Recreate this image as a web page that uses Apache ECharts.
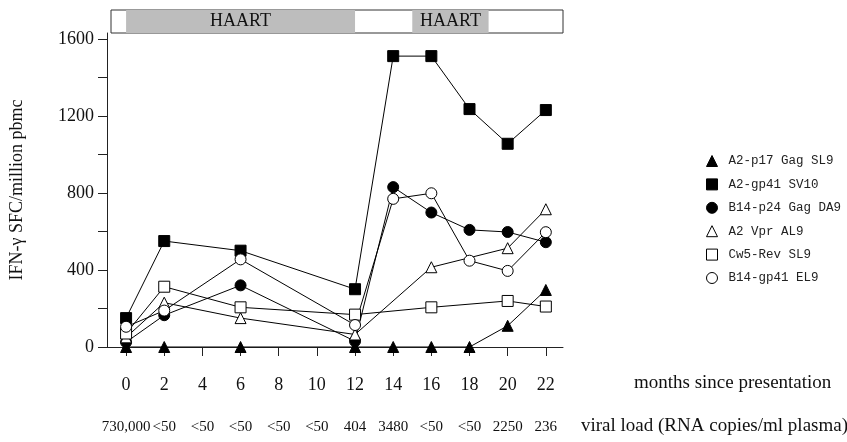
<!DOCTYPE html>
<html>
<head>
<meta charset="utf-8">
<script src="https://cdn.jsdelivr.net/npm/echarts@6/dist/echarts.min.js"></script>
<style>html,body{margin:0;padding:0;background:#fff;}#c{width:847px;height:442px;}</style>
</head>
<body>
<div id="c"></div>
<script>
const months = [0, 2, 6, 12, 14, 16, 18, 20, 22];
const tickMonths = [0, 2, 4, 6, 8, 10, 12, 14, 16, 18, 20, 22];
const viralLoad = ['730,000', '<50', '<50', '<50', '<50', '<50', '404', '3480', '<50', '<50', '2250', '236'];
const yLabelValues = [0, 400, 800, 1200, 1600];
const yTickValues = [0, 200, 400, 600, 800, 1000, 1200, 1400, 1600];

const p17GagSL9 = [0, 0, 0, 0, 0, 0, 0, 110, 296];
const gp41SV10 = [150, 550, 500, 300, 1510, 1510, 1235, 1055, 1230];
const p24GagDA9 = [25, 165, 320, 30, 830, 698, 608, 597, 544];
const vprAL9 = [50, 230, 150, 65, null, 414, null, 513, 715];
const revSL9 = [70, 313, 206, 168, null, 206, null, 239, 210];
const gp41EL9 = [105, 189, 455, 114, 769, 798, 448, 395, 596];

const haartPeriods = [[0, 12], [15, 19]];

const serif = 'Liberation Serif';
const mono = 'Liberation Mono';

function pairs(vals) { return months.map((m, i) => [m, vals[i]]); }

const FILLED = { color: '#000', borderColor: '#000', borderWidth: 1 };
const OPEN = { color: '#fff', borderColor: '#000', borderWidth: 1 };

const defs = [
  { name: 'A2-p17 Gag SL9', data: p17GagSL9, symbol: 'triangle', style: FILLED },
  { name: 'A2-gp41 SV10', data: gp41SV10, symbol: 'rect', style: FILLED },
  { name: 'B14-p24 Gag DA9', data: p24GagDA9, symbol: 'circle', style: FILLED },
  { name: 'A2 Vpr AL9', data: vprAL9, symbol: 'triangle', style: OPEN },
  { name: 'Cw5-Rev SL9', data: revSL9, symbol: 'rect', style: OPEN },
  { name: 'B14-gp41 EL9', data: gp41EL9, symbol: 'circle', style: OPEN }
];

const series = defs.map(d => ({
  name: d.name, type: 'line', xAxisIndex: 0, yAxisIndex: 0,
  data: pairs(d.data), connectNulls: true,
  symbol: d.symbol, symbolSize: 11, showSymbol: true,
  lineStyle: { color: '#000', width: 1 },
  itemStyle: d.style, emphasis: { disabled: true }, animation: false
}));

series.push({
  type: 'line', xAxisIndex: 1, yAxisIndex: 1, data: [], silent: true,
  markArea: {
    silent: true,
    itemStyle: { color: '#bdbdbd' },
    label: { show: true, position: 'inside', color: '#111', fontFamily: serif, fontSize: 18 },
    data: haartPeriods.map(p => [{ name: 'HAART', xAxis: p[0] }, { xAxis: p[1] }])
  }
});

const xMin = -1, xMax = 22.9;
const gridL = 107, gridR = 563;
const pxPer = (gridR - gridL) / (xMax - xMin);
const topL = 111;
const topMin = xMin + (topL - gridL) / pxPer;

const chart = echarts.init(document.getElementById('c'), null, { renderer: 'canvas' });
chart.setOption({
  animation: false,
  backgroundColor: '#fff',
  grid: [
    { left: gridL, right: 847 - gridR, top: 33, bottom: 95 },
    { left: topL, right: 847 - gridR, top: 10, height: 23, show: true, borderColor: '#333', borderWidth: 1, backgroundColor: 'transparent' }
  ],
  xAxis: [
    {
      type: 'value', gridIndex: 0, min: xMin, max: xMax,
      axisLine: { show: true, onZero: false, lineStyle: { color: '#222', width: 1 } },
      axisTick: { show: true, inside: false, length: 9, customValues: tickMonths, lineStyle: { color: '#222' } },
      axisLabel: { customValues: tickMonths, margin: 29, color: '#111', fontFamily: serif, fontSize: 18 },
      splitLine: { show: false }
    },
    {
      type: 'value', gridIndex: 1, min: topMin, max: xMax, show: false
    },
    {
      type: 'value', gridIndex: 0, min: xMin, max: xMax, position: 'bottom', offset: 0,
      axisLine: { show: false }, axisTick: { show: false }, splitLine: { show: false },
      axisLabel: {
        customValues: tickMonths, margin: 73, color: '#111', fontFamily: serif, fontSize: 15,
        formatter: v => viralLoad[tickMonths.indexOf(v)] || ''
      }
    }
  ],
  yAxis: [
    {
      type: 'value', gridIndex: 0, min: 0, max: 1630,
      name: 'IFN-\u03b3 SFC/million pbmc', nameLocation: 'middle', nameGap: 81,
      nameTextStyle: { fontFamily: serif, fontSize: 18, color: '#111' },
      axisLine: { show: true, onZero: false, lineStyle: { color: '#222', width: 1 } },
      axisTick: { show: true, length: 9, customValues: yTickValues, lineStyle: { color: '#222' } },
      axisLabel: { customValues: yLabelValues, margin: 13, color: '#111', fontFamily: serif, fontSize: 18, formatter: v => String(v) },
      splitLine: { show: false }
    },
    { type: 'value', gridIndex: 1, min: 0, max: 1, show: false }
  ],
  legend: {
    orient: 'vertical', left: 701, top: 149, itemWidth: 11, itemHeight: 11, itemGap: 9.4,
    selectedMode: false,
    textStyle: { fontFamily: mono, fontSize: 12.5, lineHeight: 14, color: '#222', padding: [0, 0, 0, 6] },
    data: defs.map(d => ({ name: d.name, icon: d.symbol, itemStyle: d.style }))
  },
  graphic: [
    { type: 'text', left: 634, top: 374, style: { text: 'months since presentation', font: '19px "Liberation Serif"', fill: '#111' } },
    { type: 'text', left: 581, top: 417, style: { text: 'viral load (RNA copies/ml plasma)', font: '19px "Liberation Serif"', fill: '#111' } }
  ],
  series: series
});
</script>
</body>
</html>
